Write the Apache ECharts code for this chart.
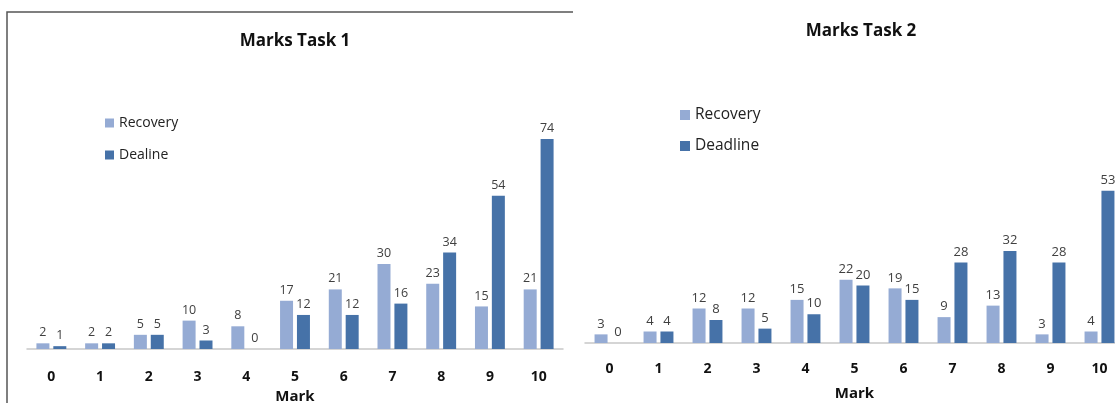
<!DOCTYPE html>
<html>
<head>
<meta charset="utf-8">
<script src="https://cdn.jsdelivr.net/npm/echarts@6/dist/echarts.min.js"></script>
<style>
html,body{margin:0;padding:0;background:#fff;}
#c{width:1115px;height:403px;}
</style>
</head>
<body>
<div id="c"></div>
<script>
const categories = ['0','1','2','3','4','5','6','7','8','9','10'];
const task1Recovery = [2,2,5,10,8,17,21,30,23,15,21];
const task1Dealine  = [1,2,5,3,0,12,12,16,34,54,74];
const task2Recovery = [3,4,12,12,15,22,19,9,13,3,4];
const task2Deadline = [0,4,8,5,10,20,15,28,32,28,53];

const FONT = '"Open Sans", "Liberation Sans", sans-serif';
const C_REC = '#95abd4';
const C_DEAD = '#4672a8';

const chart = echarts.init(document.getElementById('c'));

function xAxis(gridIndex, margin, nameGap) {
  return {
    type: 'category', gridIndex: gridIndex, data: categories,
    axisLine: {lineStyle: {color: '#c8c8c8', width: 1.5}},
    axisTick: {show: false},
    axisLabel: {color: '#111', fontWeight: 'bold', fontSize: 14, fontFamily: FONT, margin: margin},
    name: 'Mark', nameLocation: 'middle', nameGap: nameGap,
    nameTextStyle: {color: '#111', fontWeight: 'bold', fontSize: 15, fontFamily: FONT}
  };
}
function yAxis(gridIndex) {
  return {type: 'value', gridIndex: gridIndex, min: 0, max: 80, show: false, splitLine: {show: false}};
}
function bar(name, data, idx, color, fs) {
  return {
    type: 'bar', name: name, data: data, xAxisIndex: idx, yAxisIndex: idx,
    barWidth: 13, barGap: '30%',
    itemStyle: {color: color},
    label: {show: true, position: 'top', distance: 4, color: '#404040', fontSize: fs, fontFamily: FONT},
    emphasis: {disabled: true}
  };
}

chart.setOption({
  animation: false,
  title: [
    {text: 'Marks Task 1', left: 290, top: 28, textAlign: 'center',
     textStyle: {fontSize: 17, fontWeight: 'bold', color: '#111', fontFamily: FONT}},
    {text: 'Marks Task 2', left: 856, top: 18, textAlign: 'center',
     textStyle: {fontSize: 17, fontWeight: 'bold', color: '#111', fontFamily: FONT}}
  ],
  legend: [
    {data: ['Recovery', 'Dealine'], orient: 'vertical', left: 100, top: 111,
     itemWidth: 9, itemHeight: 9, itemGap: 18, icon: 'rect',
     textStyle: {fontSize: 14, color: '#222', fontFamily: FONT}},
    {data: ['Recovery ', 'Deadline'], orient: 'vertical', left: 675, top: 102,
     itemWidth: 10, itemHeight: 10, itemGap: 15, icon: 'rect',
     textStyle: {fontSize: 15.5, color: '#222', fontFamily: FONT}}
  ],
  grid: [
    {left: 27, top: 122, width: 536, height: 227, outerBoundsMode: 'none', containLabel: false},
    {left: 585, top: 113, width: 539, height: 230, outerBoundsMode: 'none', containLabel: false}
  ],
  xAxis: [xAxis(0, 21, 40), xAxis(1, 19, 43)],
  yAxis: [yAxis(0), yAxis(1)],
  series: [
    bar('Recovery', task1Recovery, 0, C_REC, 12.5),
    bar('Dealine', task1Dealine, 0, C_DEAD, 12.5),
    bar('Recovery ', task2Recovery, 1, C_REC, 13),
    bar('Deadline', task2Deadline, 1, C_DEAD, 13)
  ],
  graphic: [
    {type: 'polyline', shape: {points: [[7, 403], [7, 12], [573, 12]]},
     style: {stroke: '#555', lineWidth: 1.5, fill: null}}
  ]
});
</script>
</body>
</html>
